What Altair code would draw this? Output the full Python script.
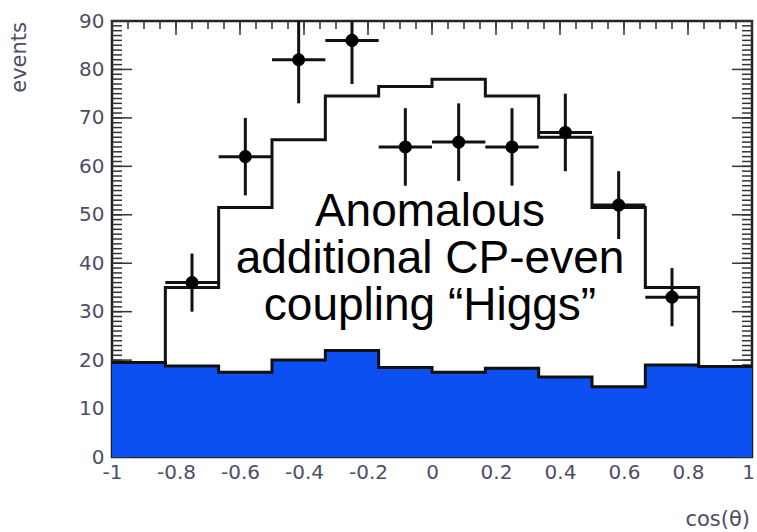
import altair as alt
import numpy as np
import pandas as pd

# Histogram bin edges in cos(theta)
bin_edges = [-1.0, -0.8333, -0.6667, -0.5, -0.3333, -0.1667, 0.0,
             0.1667, 0.3333, 0.5, 0.6667, 0.8333, 1.0]

# Expected background per bin (blue) and background + anomalous signal (black outline)
background = [19.5, 18.8, 17.5, 20.0, 22.0, 18.5, 17.5, 18.3, 16.5, 14.5, 19.0, 18.7]
total = [19.5, 35.0, 51.5, 65.5, 74.5, 76.5, 78.0, 74.5, 66.0, 51.5, 35.0, 18.7]

# Observed events with their statistical errors
data_x = [-0.75, -0.5833, -0.4167, -0.25, -0.0833, 0.0833, 0.25, 0.4167, 0.5833, 0.75]
data_y = [36, 62, 82, 86, 64, 65, 64, 67, 52, 33]
data_err = [6, 8, 9, 9, 8, 8, 8, 8, 7, 6]

y_ticks_major = list(range(0, 91, 10))
x_ticks_major = [-1, -0.8, -0.6, -0.4, -0.2, 0, 0.2, 0.4, 0.6, 0.8, 1]

W, H = 640, 436
BLUE = "#0d50f2"
LABEL_COLOR = "#4d4d66"
FONT = "DejaVu Sans"

xscale = alt.Scale(domain=[-1, 1], nice=False, zero=False)
yscale = alt.Scale(domain=[0, 90], nice=False)

# step tables: repeat the last bin value at the right edge so the step closes at x = 1
step = pd.DataFrame({
    "x": bin_edges,
    "bkg": background + [background[-1]],
    "tot": total + [total[-1]],
})

half = (bin_edges[1] - bin_edges[0]) / 2
pts = pd.DataFrame({"x": data_x, "y": data_y, "err": data_err})
pts["xlo"] = pts["x"] - half
pts["xhi"] = pts["x"] + half
pts["ylo"] = pts["y"] - pts["err"]
pts["yhi"] = pts["y"] + pts["err"]

x_minor = pd.DataFrame({"v": np.round(np.arange(-1, 1.0001, 0.05), 4)})
x_major = pd.DataFrame({"v": x_ticks_major})
y_minor = pd.DataFrame({"v": list(range(0, 91))})
y_major = pd.DataFrame({"v": y_ticks_major})

x_axis = alt.Axis(
    values=x_ticks_major, tickSize=0, domain=False, grid=False,
    labelFlush=False, labelPadding=5, labelFont=FONT, labelFontSize=20,
    labelColor=LABEL_COLOR,
    labelOffset={"expr": "datum.value == 1 ? -4 : 0"},
    labelExpr="replace(format(datum.value, '~g'), '\u2212', '-')",
)
y_axis = alt.Axis(
    values=y_ticks_major, tickSize=0, domain=False, grid=False,
    labelPadding=8, labelFont=FONT, labelFontSize=20, labelColor=LABEL_COLOR,
)


def X(field):
    return alt.X(field, type="quantitative", scale=xscale, axis=x_axis, title=None)


def Y(field):
    return alt.Y(field, type="quantitative", scale=yscale, axis=y_axis, title=None)


# inward-pointing frame ticks
top_minor = alt.Chart(x_minor).mark_rule(color="#333", strokeWidth=1.5).encode(
    x=X("v"), y=alt.value(0), y2=alt.value(8))
top_major = alt.Chart(x_major).mark_rule(color="#333", strokeWidth=1.5).encode(
    x=X("v"), y=alt.value(0), y2=alt.value(14))
left_minor = alt.Chart(y_minor).mark_rule(color="#333", strokeWidth=1.5).encode(
    y=Y("v"), x=alt.value(0), x2=alt.value(10))
left_major = alt.Chart(y_major).mark_rule(color="#333", strokeWidth=1.5).encode(
    y=Y("v"), x=alt.value(0), x2=alt.value(20))
right_minor = alt.Chart(y_minor).mark_rule(color="#333", strokeWidth=1.5).encode(
    y=Y("v"), x=alt.value(W), x2=alt.value(W - 10))
right_major = alt.Chart(y_major).mark_rule(color="#333", strokeWidth=1.5).encode(
    y=Y("v"), x=alt.value(W), x2=alt.value(W - 20))

bkg_area = alt.Chart(step).mark_area(interpolate="step-after", color=BLUE).encode(
    x=X("x"), y=Y("bkg"))
bkg_line = alt.Chart(step).mark_line(interpolate="step-after", color="#111",
                                     strokeWidth=3).encode(x=X("x"), y=Y("bkg"))
tot_line = alt.Chart(step).mark_line(interpolate="step-after", color="#111",
                                     strokeWidth=3).encode(x=X("x"), y=Y("tot"))

h_err = alt.Chart(pts).mark_rule(color="#111", strokeWidth=3, clip=True).encode(
    x=X("xlo"), x2="xhi", y=Y("y"))
v_err = alt.Chart(pts).mark_rule(color="#111", strokeWidth=3, clip=True).encode(
    x=X("x"), y=Y("ylo"), y2="yhi")
dots = alt.Chart(pts).mark_circle(color="#000", size=170, opacity=1).encode(
    x=X("x"), y=Y("y"))

note = alt.Chart(pd.DataFrame({"t": ["Anomalous\nadditional CP-even\ncoupling \u201cHiggs\u201d"]})).mark_text(
    font="Liberation Sans", fontSize=46, lineHeight=47, lineBreak="\n",
    align="center", baseline="alphabetic", color="#000",
).encode(text="t:N", x=alt.value(318), y=alt.value(205))

y_title = alt.Chart(pd.DataFrame({"t": ["events"]})).mark_text(
    font=FONT, fontSize=21, angle=270, align="right", baseline="middle",
    color=LABEL_COLOR,
).encode(text="t:N", x=alt.value(-92), y=alt.value(1))

x_title = alt.Chart(pd.DataFrame({"t": ["cos(\u03b8)"]})).mark_text(
    font=FONT, fontSize=21, align="right", baseline="alphabetic",
    color=LABEL_COLOR,
).encode(text="t:N", x=alt.value(638), y=alt.value(505))

chart = alt.layer(
    top_minor, top_major, left_minor, left_major, right_minor, right_major,
    bkg_area, bkg_line, tot_line, h_err, v_err, dots, note, y_title, x_title,
).properties(
    width=W, height=H,
    autosize=alt.AutoSizeParams(type="none"),
    padding={"left": 112, "top": 21, "right": 5, "bottom": 75},
    background="white",
).configure_view(stroke="#222", strokeWidth=2.5)

chart.save("out.html", embed_options={"renderer": "svg", "actions": False})
